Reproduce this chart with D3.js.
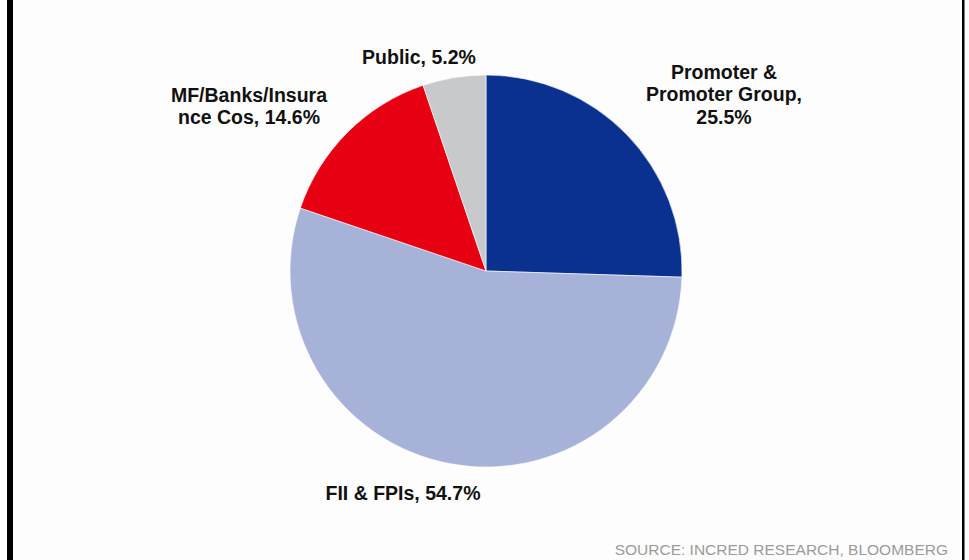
<!DOCTYPE html>
<html>
<head>
<meta charset="utf-8">
<script src="https://cdn.jsdelivr.net/npm/d3@7"></script>
<style>
  html, body { margin: 0; padding: 0; background: #fdfdfd; }
  svg { display: block; }
</style>
</head>
<body>
<svg id="chart" width="969" height="560"></svg>
<script>
// Shareholding pattern, clockwise from 12 o'clock
const categories = ["Promoter & Promoter Group", "FII & FPIs", "MF/Banks/Insurance Cos", "Public"];
const shares = [25.5, 54.7, 14.6, 5.2];
const colors = ["#0a318f", "#a7b2d9", "#e60012", "#c8c9cb"];
// Label lines as they wrap on the page
const labelLines = [
  ["Promoter &", "Promoter Group,", "25.5%"],
  ["FII & FPIs, 54.7%"],
  ["MF/Banks/Insura", "nce Cos, 14.6%"],
  ["Public, 5.2%"]
];
const source = "SOURCE: INCRED RESEARCH, BLOOMBERG";

const W = 969, H = 560;
const cx = 486, cy = 271, R = 196;
const font = "'Liberation Sans', Arial, sans-serif";

const svg = d3.select("#chart");

// frame rules at left and right
svg.append("rect").attr("x", 7).attr("y", 0).attr("width", 6).attr("height", H).attr("fill", "#000");
svg.append("rect").attr("x", 962).attr("y", 0).attr("width", 2.5).attr("height", H).attr("fill", "#000");

const pie = d3.pie().sort(null).value(d => d)(shares);
const arc = d3.arc().innerRadius(0).outerRadius(R);

const g = svg.append("g").attr("transform", `translate(${cx},${cy})`);
g.selectAll("path")
  .data(pie)
  .join("path")
  .attr("d", arc)
  .attr("fill", (d, i) => colors[i])
  .attr("stroke", "#ffffff")
  .attr("stroke-width", 0.6);

// Label centre x and first-line y for each slice
const labelPos = [
  { x: 724, y: 72 },   // Promoter
  { x: 403, y: 493 },  // FII
  { x: 249, y: 95 },   // MF
  { x: 419, y: 57 }    // Public
];
const lineH = 22.5;

const labels = svg.append("g")
  .attr("font-family", font)
  .attr("font-weight", "bold")
  .attr("font-size", 19.5)
  .attr("fill", "#111")
  .attr("text-anchor", "middle");

labelLines.forEach((lines, i) => {
  const p = labelPos[i];
  const t = labels.append("text").attr("y", p.y);
  lines.forEach((ln, k) => {
    t.append("tspan")
      .attr("x", p.x)
      .attr("dy", k === 0 ? "0.35em" : lineH)
      .text(ln);
  });
});

svg.append("text")
  .attr("x", 948)
  .attr("y", 555)
  .attr("text-anchor", "end")
  .attr("font-family", font)
  .attr("font-size", 15.5)
  .attr("fill", "#9a9a9a")
  .text(source);
</script>
</body>
</html>
